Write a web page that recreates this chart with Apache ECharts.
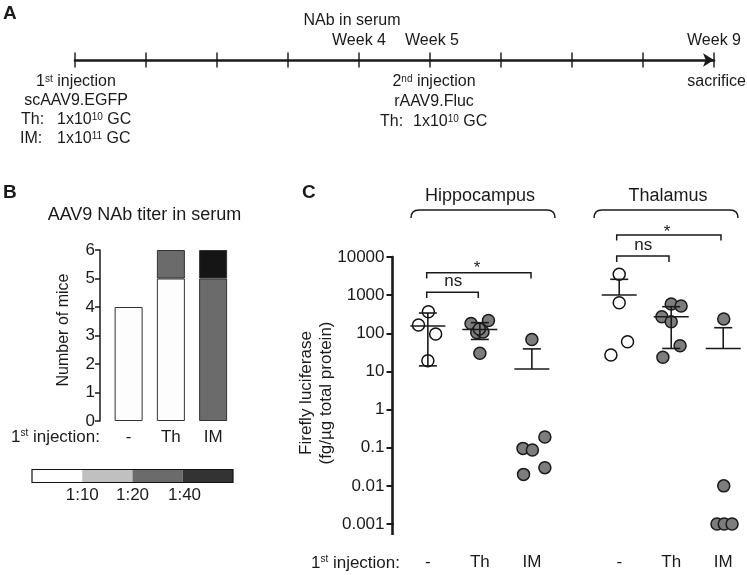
<!DOCTYPE html>
<html><head><meta charset="utf-8">
<script src="https://cdn.jsdelivr.net/npm/echarts@6/dist/echarts.min.js"></script>
<style>html,body{margin:0;padding:0;background:#fff}#c{width:747px;height:575px}</style>
</head><body><div id="c"></div>
<script>
// ---------- Panel A: timeline ----------
const weeks = [0, 1, 2, 3, 4, 5, 6, 7, 8, 9];
// ---------- Panel B: NAb titer ----------
const categoriesB = ['-', 'Th', 'IM'];
const titerBelow10 = [4, 5, 0];
const titer20 = [0, 1, 5];
const titer40 = [0, 0, 1];
const legendTiters = ['1:10', '1:20', '1:40'];
// ---------- Panel C: firefly luciferase ----------
const groupX = [0, 1, 2, 3.68, 4.68, 5.68];
const groupLabels = ['-', 'Th', 'IM', '-', 'Th', 'IM'];
const yTickLabelsC = ['0.001', '0.01', '0.1', '1', '10', '100', '1000', '10000'];
const hippoNaive = [[0.01, 368], [-0.18, 165], [0.15, 96], [0.0, 19]];
const hippoTh = [[0.83, 180], [1.165, 216], [0.94, 105], [1.06, 108], [0.99, 130], [1.0, 30]];
const hippoIM = [[2.0, 69], [2.25, 0.19], [1.83, 0.096], [2.01, 0.087], [2.25, 0.030], [1.84, 0.020]];
const thalNaive = [[3.68, 3515], [3.68, 634], [3.84, 60], [3.52, 27]];
const thalTh = [[4.68, 586], [4.87, 519], [4.5, 272], [4.68, 201], [4.85, 47], [4.52, 23.5]];
const thalIM = [[5.69, 237], [5.69, 0.01], [5.56, 0.001], [5.70, 0.001], [5.85, 0.001]];
const meanC = [155, 126, 11.6, 1009, 272, 40];
const upperC = [340, 190, 39, 2600, 498, 140];
const lowerC = [14, 69, null, null, 40, null];

const FONT = "'Liberation Sans', Arial, Helvetica, sans-serif";
const INK = '#1a1a1a';

function txt(x, y, text, o) {
  o = o || {};
  const size = o.size || 17;
  return {
    type: 'text', x: x, y: y, rotation: o.rot || 0, silent: true,
    style: {
      text: text, fill: INK,
      font: (o.bold ? 'bold ' : '') + size + 'px ' + FONT,
      align: o.align || 'center', verticalAlign: 'middle',
      lineHeight: o.lh || undefined,
      rich: {
        n: {fontSize: size, fontFamily: FONT, fill: INK},
        s: {fontSize: Math.round(size * 0.6), fontFamily: FONT, fill: INK, verticalAlign: 'top'}
      }
    }
  };
}
function pline(points, w) {
  return {type: 'polyline', silent: true, shape: {points: points},
    style: {stroke: INK, lineWidth: w || 1.5, fill: null}};
}
function brace(x1, x2, y) {
  const st = {stroke: INK, lineWidth: 1.5, fill: null};
  return [
    {type: 'bezierCurve', silent: true, shape: {x1: x1, y1: y + 8, cpx1: x1, cpy1: y, x2: x1 + 8, y2: y}, style: st},
    {type: 'line', silent: true, shape: {x1: x1 + 8, y1: y, x2: x2 - 8, y2: y}, style: st},
    {type: 'bezierCurve', silent: true, shape: {x1: x2 - 8, y1: y, cpx1: x2, cpy1: y, x2: x2, y2: y + 8}, style: st}
  ];
}
function nz(arr) { return arr.map(function (v) { return v === 0 ? null : v; }); }

const graphics = [
  // panel letters
  txt(3, 14, 'A', {bold: true, size: 19, align: 'left'}),
  txt(3, 193, 'B', {bold: true, size: 19, align: 'left'}),
  txt(302, 193, 'C', {bold: true, size: 19, align: 'left'}),
  // Panel A texts
  txt(352, 21, 'NAb in serum', {size: 16}),
  txt(359, 41, 'Week 4', {size: 16}),
  txt(432, 41, 'Week 5', {size: 16}),
  txt(714, 41, 'Week 9', {size: 16}),
  txt(76, 82, '{n|1}{s|st}{n| injection}', {size: 16}),
  txt(76, 101, 'scAAV9.EGFP', {size: 16}),
  txt(21, 120, 'Th:', {size: 16, align: 'left'}),
  txt(57, 120, '{n|1x10}{s|10}{n| GC}', {size: 16, align: 'left'}),
  txt(20, 139, 'IM:', {size: 16, align: 'left'}),
  txt(57, 139, '{n|1x10}{s|11}{n| GC}', {size: 16, align: 'left'}),
  txt(434, 82, '{n|2}{s|nd}{n| injection}', {size: 16}),
  txt(434, 102, 'rAAV9.Fluc', {size: 16}),
  txt(380, 122, 'Th:', {size: 16, align: 'left'}),
  txt(413, 122, '{n|1x10}{s|10}{n| GC}', {size: 16, align: 'left'}),
  txt(746, 82, 'sacrifice', {size: 16, align: 'right'}),
  // Panel B texts
  txt(144.5, 215, 'AAV9 NAb titer in serum', {size: 18}),
  txt(64, 330, 'Number of mice', {size: 16, rot: Math.PI / 2}),
  txt(100, 437, '{n|1}{s|st}{n| injection:}', {size: 17, align: 'right'}),
  // legend bar
  {type: 'rect', silent: true, shape: {x: 32, y: 469.5, width: 50.25, height: 13}, style: {fill: '#ffffff'}},
  {type: 'rect', silent: true, shape: {x: 82.25, y: 469.5, width: 50.25, height: 13}, style: {fill: '#c0c0c0'}},
  {type: 'rect', silent: true, shape: {x: 132.5, y: 469.5, width: 50.25, height: 13}, style: {fill: '#6b6b6b'}},
  {type: 'rect', silent: true, shape: {x: 182.75, y: 469.5, width: 50.25, height: 13}, style: {fill: '#333333'}},
  {type: 'rect', silent: true, shape: {x: 32, y: 469.5, width: 201, height: 13}, style: {fill: null, stroke: '#111', lineWidth: 1.2}},
  txt(82.25, 495, legendTiters[0], {size: 17}),
  txt(132.5, 495, legendTiters[1], {size: 17}),
  txt(184.5, 495, legendTiters[2], {size: 17}),
  // Panel C texts
  txt(480, 196, 'Hippocampus', {size: 18}),
  txt(668, 196, 'Thalamus', {size: 18})
].concat(brace(411, 555, 210), brace(594, 738, 210), [
  pline([[426.7, 278.5], [426.7, 272.7], [531, 272.7], [531, 278.5]]),
  pline([[426.7, 298], [426.7, 292.3], [478.3, 292.3], [478.3, 298]]),
  txt(477, 268.5, '*', {size: 17}),
  txt(453.3, 281.5, 'ns', {size: 17}),
  pline([[616.7, 240.5], [616.7, 235], [721, 235], [721, 240.5]]),
  pline([[616.7, 262], [616.7, 256], [669, 256], [669, 262]]),
  txt(667, 232, '*', {size: 17}),
  txt(643.3, 245.5, 'ns', {size: 17}),
  txt(316, 393, 'Firefly luciferase\n(fg/µg total protein)', {size: 17, rot: Math.PI / 2, lh: 20}),
  txt(400, 563, '{n|1}{s|st}{n| injection:}', {size: 17, align: 'right'}),
  {type: 'line', silent: true, shape: {x1: 392.5, y1: 523, x2: 392.5, y2: 535}, style: {stroke: INK, lineWidth: 2.6}}
]);

const chart = echarts.init(document.getElementById('c'), null, {renderer: 'canvas'});
const option = {
  animation: false,
  backgroundColor: '#ffffff',
  textStyle: {fontFamily: FONT},
  grid: [
    {left: 75, width: 639, top: 52, height: 16},
    {left: 107.5, width: 126.75, top: 250, height: 171},
    {left: 392.5, width: 353.6, top: 257, height: 267}
  ],
  xAxis: [
    {gridIndex: 0, type: 'value', min: 0, max: 9, interval: 1,
      axisLine: {onZero: true, symbol: ['none', 'arrow'], symbolSize: [10, 11], lineStyle: {color: INK, width: 2.6}},
      axisTick: {show: false}, axisLabel: {show: false}, splitLine: {show: false}},
    {gridIndex: 1, type: 'category', data: categoriesB,
      axisLine: {show: false}, axisTick: {show: false},
      axisLabel: {fontSize: 17, color: INK, margin: 8, fontFamily: FONT}},
    {gridIndex: 2, type: 'value', min: -0.68, max: 6.12,
      axisLine: {show: false, onZero: false}, axisTick: {show: false}, splitLine: {show: false},
      axisLabel: {customValues: groupX, fontSize: 17, color: INK, margin: 30, fontFamily: FONT,
        formatter: function (v) {
          const i = groupX.findIndex(function (g) { return Math.abs(g - v) < 1e-6; });
          return i >= 0 ? groupLabels[i] : '';
        }}}
  ],
  yAxis: [
    {gridIndex: 0, type: 'value', min: -1, max: 1, show: false},
    {gridIndex: 1, type: 'value', min: 0, max: 6, interval: 1, offset: 7.5,
      axisLine: {show: true, onZero: false, lineStyle: {color: INK, width: 1.5}},
      axisTick: {show: true, length: 5, lineStyle: {color: INK, width: 1.5}},
      axisLabel: {fontSize: 17, color: INK, margin: 5, fontFamily: FONT},
      splitLine: {show: false}},
    {gridIndex: 2, type: 'log', logBase: 10, min: 0.001, max: 10000,
      axisLine: {show: true, onZero: false, lineStyle: {color: INK, width: 2.6}},
      axisTick: {show: true, length: 6, lineStyle: {color: INK, width: 2}},
      axisLabel: {fontSize: 17, color: INK, margin: 8, fontFamily: FONT,
        formatter: function (v) { return yTickLabelsC[Math.round(Math.log10(v)) + 3]; }},
      splitLine: {show: false}}
  ],
  series: [
    {type: 'scatter', name: 'weeks', xAxisIndex: 0, yAxisIndex: 0, silent: true,
      data: weeks.map(function (w) { return [w, 0]; }),
      symbol: 'rect', symbolSize: [1.8, 15], itemStyle: {color: INK}},
    {type: 'bar', name: '<1:10', stack: 'mice', xAxisIndex: 1, yAxisIndex: 1, data: nz(titerBelow10), barWidth: 28,
      itemStyle: {color: '#fdfdfd', borderColor: '#333', borderWidth: 1}},
    {type: 'bar', name: '1:20', stack: 'mice', xAxisIndex: 1, yAxisIndex: 1, data: nz(titer20), barWidth: 28,
      itemStyle: {color: '#6b6b6b', borderColor: '#333', borderWidth: 1}},
    {type: 'bar', name: '1:40', stack: 'mice', xAxisIndex: 1, yAxisIndex: 1, data: nz(titer40), barWidth: 28,
      itemStyle: {color: '#151515', borderColor: '#333', borderWidth: 1}},
    {type: 'scatter', name: 'naive', xAxisIndex: 2, yAxisIndex: 2, z: 3,
      data: hippoNaive.concat(thalNaive), symbol: 'circle', symbolSize: 12,
      itemStyle: {color: '#ffffff', borderColor: '#111', borderWidth: 1.5, opacity: 1}},
    {type: 'scatter', name: 'preimmunized', xAxisIndex: 2, yAxisIndex: 2, z: 3,
      data: hippoTh.concat(hippoIM, thalTh, thalIM), symbol: 'circle', symbolSize: 12,
      itemStyle: {color: '#7d7d7d', borderColor: '#1a1a1a', borderWidth: 1.5, opacity: 1}},
    {type: 'custom', name: 'mean ± SD', xAxisIndex: 2, yAxisIndex: 2, z: 5, silent: true,
      data: groupX.map(function (x, i) { return [x, meanC[i], upperC[i], lowerC[i] == null ? NaN : lowerC[i]]; }),
      encode: {x: 0, y: 1},
      renderItem: function (params, api) {
        const x = api.value(0), m = api.value(1), u = api.value(2), l = api.value(3);
        const pm = api.coord([x, m]);
        const pu = api.coord([x, u]);
        const hasL = l > 0;
        const pl = hasL ? api.coord([x, l]) : pm;
        const st = {stroke: INK, lineWidth: 1.6};
        const ch = [
          {type: 'line', shape: {x1: pm[0] - 17.5, y1: pm[1], x2: pm[0] + 17.5, y2: pm[1]}, style: st},
          {type: 'line', shape: {x1: pu[0], y1: pu[1], x2: pl[0], y2: pl[1]}, style: st},
          {type: 'line', shape: {x1: pu[0] - 9, y1: pu[1], x2: pu[0] + 9, y2: pu[1]}, style: st}
        ];
        if (hasL) ch.push({type: 'line', shape: {x1: pl[0] - 9, y1: pl[1], x2: pl[0] + 9, y2: pl[1]}, style: st});
        return {type: 'group', children: ch};
      }}
  ],
  graphic: graphics
};
chart.setOption(option);
</script></body></html>
